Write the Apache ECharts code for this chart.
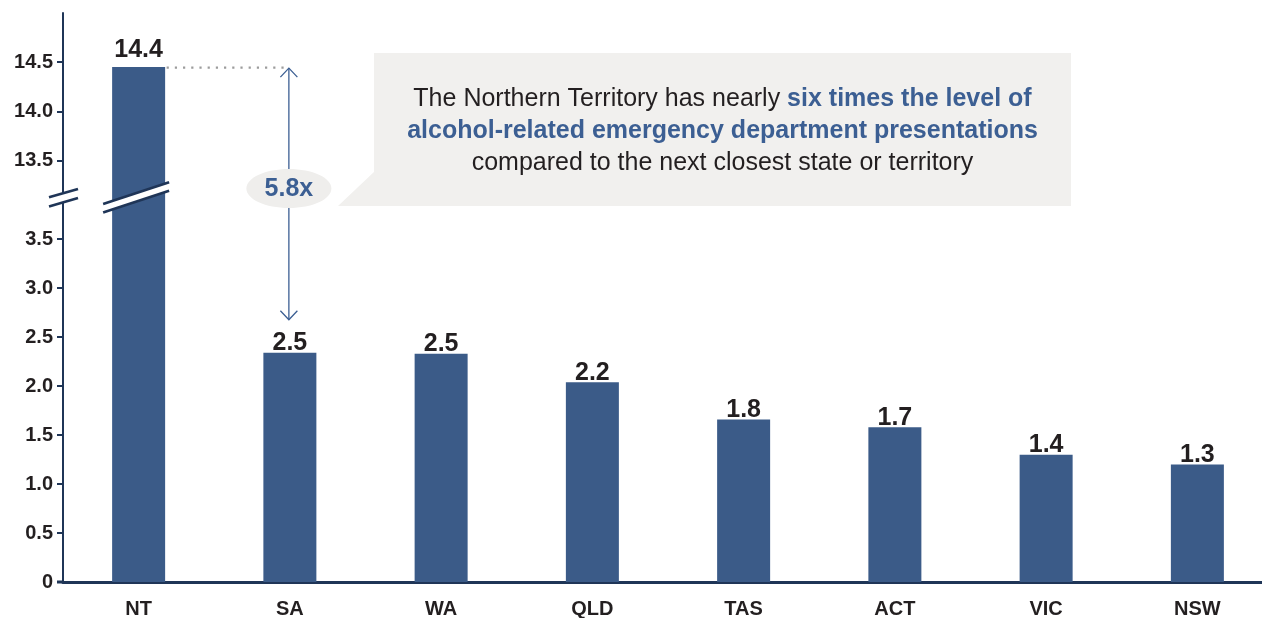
<!DOCTYPE html>
<html><head><meta charset="utf-8">
<script src="https://cdn.jsdelivr.net/npm/echarts@6/dist/echarts.min.js"></script>
<style>html,body{margin:0;padding:0;background:#fff}#c{width:1262px;height:618px}</style>
</head><body><div id="c"></div>
<script>
const categories = ['NT', 'SA', 'WA', 'QLD', 'TAS', 'ACT', 'VIC', 'NSW'];
const values = [14.45, 2.34, 2.33, 2.04, 1.66, 1.58, 1.30, 1.20];
const valueLabels = ['14.4', '2.5', '2.5', '2.2', '1.8', '1.7', '1.4', '1.3'];
const lowerTicks = [0, 0.5, 1, 1.5, 2, 2.5, 3, 3.5];
const lowerTickLabels = ['0', '0.5', '1.0', '1.5', '2.0', '2.5', '3.0', '3.5'];
const upperTicks = [13.5, 14, 14.5];
const upperTickLabels = ['13.5', '14.0', '14.5'];
const lowerRange = [0, 3.92];
const upperRange = [13.12, 15.0];
const ratioLabel = '5.8x';
const calloutRegular1 = 'The Northern Territory has nearly ';
const calloutBold1 = 'six times the level of';
const calloutBold2 = 'alcohol-related emergency department presentations';
const calloutRegular3 = 'compared to the next closest state or territory';

const FONT = "'Liberation Sans', Arial, sans-serif";
const BAR = '#3b5b88';
const AXIS = '#1f3557';
const BLUE = '#3c5f93';
const DARK = '#231f20';
const BOX = '#f1f0ee';

const chart = echarts.init(document.getElementById('c'), null, {renderer: 'canvas'});

const yAxisCommon = {
  type: 'value',
  splitLine: {show: false},
  axisLine: {show: true, lineStyle: {color: AXIS, width: 2}},
  axisTick: {show: true, length: 6, lineStyle: {color: AXIS, width: 2}},
};
const labelFont = {fontFamily: FONT, fontWeight: 'bold', color: DARK};

chart.setOption({
  animation: false,
  grid: [
    {left: 63, width: 1210, top: 198, height: 384, outerBoundsMode: 'none', containLabel: false},
    {left: 63, width: 1210, top: 13, height: 185, outerBoundsMode: 'none', containLabel: false}
  ],
  xAxis: [
    {type: 'category', gridIndex: 0, data: categories,
     axisLine: {show: true, lineStyle: {color: AXIS, width: 3}},
     axisTick: {show: false},
     axisLabel: Object.assign({interval: 0, margin: 17, fontSize: 20}, labelFont)},
    {type: 'category', gridIndex: 1, data: categories, show: false}
  ],
  yAxis: [
    Object.assign({}, yAxisCommon, {
      gridIndex: 0, min: lowerRange[0], max: lowerRange[1],
      axisTick: Object.assign({}, yAxisCommon.axisTick, {customValues: lowerTicks}),
      axisLabel: Object.assign({customValues: lowerTicks, margin: 10, fontSize: 20,
        formatter: v => lowerTickLabels[lowerTicks.indexOf(v)]}, labelFont)
    }),
    Object.assign({}, yAxisCommon, {
      gridIndex: 1, min: upperRange[0], max: upperRange[1],
      axisTick: Object.assign({}, yAxisCommon.axisTick, {customValues: upperTicks}),
      axisLabel: Object.assign({customValues: upperTicks, margin: 10, fontSize: 20,
        formatter: v => upperTickLabels[upperTicks.indexOf(v)]}, labelFont)
    })
  ],
  series: [
    {type: 'bar', xAxisIndex: 0, yAxisIndex: 0, barWidth: 53, clip: true,
     itemStyle: {color: BAR},
     data: values.map(v => ({value: v, label: {show: v <= lowerRange[1]}})),
     label: Object.assign({show: true, position: 'top', distance: 1, offset: [0, 4], fontSize: 25,
       formatter: p => valueLabels[p.dataIndex]}, labelFont)},
    {type: 'bar', xAxisIndex: 1, yAxisIndex: 1, barWidth: 53, clip: true,
     itemStyle: {color: BAR},
     data: values.map(v => v > upperRange[0] ? v : '-'),
     label: Object.assign({show: true, position: 'top', distance: 9, offset: [0, 4], fontSize: 25,
       formatter: p => valueLabels[p.dataIndex]}, labelFont)}
  ]
});

// annotation geometry derived from the axes
const ntX = chart.convertToPixel({xAxisIndex: 0}, categories[0]);
const saX = chart.convertToPixel({xAxisIndex: 0}, categories[1]);
const band = saX - ntX;
const axisX = ntX - band / 2;
const baseY = chart.convertToPixel({yAxisIndex: 0}, 0);
const breakY = chart.convertToPixel({yAxisIndex: 0}, lowerRange[1]);
const ntTop = chart.convertToPixel({yAxisIndex: 1}, values[0]);
const saTop = chart.convertToPixel({yAxisIndex: 0}, values[1]);
const arrowX = saX - 1;

function breakMark(cx, cy, halfW, k, off, lw) {
  const x1 = cx - halfW, x2 = cx + halfW;
  const y1 = cy + k * halfW, y2 = cy - k * halfW;
  return [
    {type: 'polygon', z: 100, shape: {points: [[x1, y1 - off], [x2, y2 - off], [x2, y2 + off], [x1, y1 + off]]},
     style: {fill: '#fff'}},
    {type: 'line', z: 101, shape: {x1: x1, y1: y1 - off, x2: x2, y2: y2 - off}, style: {stroke: AXIS, lineWidth: lw}},
    {type: 'line', z: 101, shape: {x1: x1, y1: y1 + off, x2: x2, y2: y2 + off}, style: {stroke: AXIS, lineWidth: lw}}
  ];
}

const arrowTop = ntTop + 1;
const arrowBot = saTop - 33;
const elements = [].concat(
  breakMark(axisX + 0.5, breakY - 0.3, 14.5, 0.29, 4.6, 2.6),
  breakMark(ntX - 2.5, breakY - 0.6, 33, 0.33, 4.3, 2.6),
  [
    {type: 'line', z: 90, shape: {x1: axisX - 6, y1: baseY, x2: axisX, y2: baseY}, style: {stroke: AXIS, lineWidth: 3}},
    // dotted guide
    {type: 'line', z: 90, shape: {x1: ntX + 28, y1: ntTop + 0.5, x2: arrowX - 3, y2: ntTop + 0.5},
     style: {stroke: '#9c9c9c', lineWidth: 2.2, lineDash: [2.2, 6]}},
    // arrow
    {type: 'line', z: 90, shape: {x1: arrowX, y1: arrowTop, x2: arrowX, y2: arrowBot}, style: {stroke: BLUE, lineWidth: 1.3}},
    {type: 'polyline', z: 90, shape: {points: [[arrowX - 8.5, arrowTop + 9], [arrowX, arrowTop], [arrowX + 8.5, arrowTop + 9]]},
     style: {stroke: BLUE, lineWidth: 1.3, fill: null}},
    {type: 'polyline', z: 90, shape: {points: [[arrowX - 8.5, arrowBot - 9], [arrowX, arrowBot], [arrowX + 8.5, arrowBot - 9]]},
     style: {stroke: BLUE, lineWidth: 1.3, fill: null}},
    {type: 'ellipse', z: 91, shape: {cx: arrowX, cy: 188.5, rx: 42.5, ry: 19.5}, style: {fill: '#efeeec'}},
    {type: 'text', z: 92, x: arrowX, y: 189,
     style: {text: ratioLabel, fill: BLUE, font: 'bold 25px ' + FONT, align: 'center', verticalAlign: 'middle',
       textAlign: 'center', textVerticalAlign: 'middle'}},
    // callout
    {type: 'polygon', z: 80, shape: {points: [[338, 206], [375, 171], [375, 206]]}, style: {fill: BOX}},
    {type: 'rect', z: 80, shape: {x: 374, y: 53, width: 697, height: 153}, style: {fill: BOX}},
    {type: 'text', z: 81, x: 722.5, y: 131,
     style: {
       text: '{r|' + calloutRegular1 + '}{b|' + calloutBold1 + '}\n{b|' + calloutBold2 + '}\n{r|' + calloutRegular3 + '}',
       align: 'center', verticalAlign: 'middle', textAlign: 'center', textVerticalAlign: 'middle',
       rich: {
         r: {fontFamily: FONT, fontSize: 25, fill: DARK, lineHeight: 32},
         b: {fontFamily: FONT, fontSize: 25, fontWeight: 'bold', fill: BLUE, lineHeight: 32}
       }
     }}
  ]
);
chart.setOption({graphic: {elements: elements}});
</script>
</body></html>
